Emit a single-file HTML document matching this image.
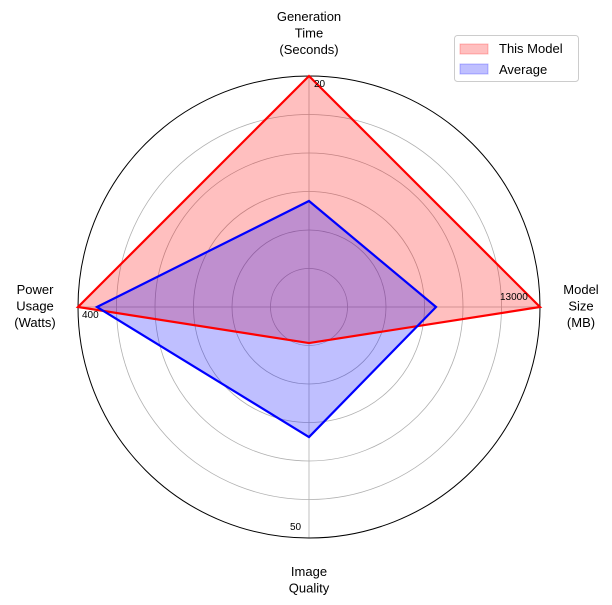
<!DOCTYPE html>
<html><head><meta charset="utf-8"><style>body{margin:0;background:#fff}svg{display:block;font-family:"Liberation Sans","DejaVu Sans",sans-serif}</style></head>
<body>
<svg id="c" width="612" height="605"></svg>
<script>
const categories=["Model Size (MB)","Generation Time (Seconds)","Power Usage (Watts)","Image Quality"];
const thisModel=[1.0,1.0,1.0,0.156];
const average=[0.55,0.459,0.918,0.563];
const tickLabels=["13000","20","400","50"];
const NS="http://www.w3.org/2000/svg";
const svg=document.getElementById('c');
const cx=309,cy=307,R=231;
function mk(t,a,p){const e=document.createElementNS(NS,t);for(const k in a)e.setAttribute(k,a[k]);(p||svg).appendChild(e);return e;}
function ang(i){return i*2*Math.PI/categories.length;}
function px(i,v){return cx+Math.cos(ang(i))*v*R;}
function py(i,v){return cy-Math.sin(ang(i))*v*R;}
for(let k=1;k<=5;k++){const g=mk('circle',{cx,cy,r:R*k/6,fill:'none',stroke:'#b0b0b0','stroke-width':0.8});

}
categories.forEach((c,i)=>{const l=mk('line',{x1:cx,y1:cy,x2:px(i,1),y2:py(i,1),stroke:'#b0b0b0','stroke-width':0.8});

});
const outer=mk('circle',{cx,cy,r:R,fill:'none',stroke:'#000','stroke-width':1});


function pts(vals){return vals.map((v,i)=>px(i,v)+','+py(i,v)).join(' ');}
function fill(vals,col,name){const p=mk('polygon',{points:pts(vals),fill:col,'fill-opacity':0.25,stroke:'none'});

}
function line(vals,col,name){const s=mk('polygon',{points:pts(vals),fill:'none',stroke:col,'stroke-width':2.2});

}
fill(thisModel,'#ff0000','this-model');
fill(average,'#0000ff','average');
line(thisModel,'#ff0000','this-model');
line(average,'#0000ff','average');
const tickPos=[[500,300],[314,87],[82,318],[290,530]];
tickLabels.forEach((t,i)=>{const e=mk('text',{x:tickPos[i][0],y:tickPos[i][1],'font-size':10});e.textContent=t;

});
const lab=[[["Model","Size","(MB)"],581,294],[["Generation","Time","(Seconds)"],309,21],[["Power","Usage","(Watts)"],35,294],[["Image","Quality"],309,576]];
lab.forEach(([lines,x,y])=>{const t=mk('text',{x,y,'font-size':13,'text-anchor':'middle'});


lines.forEach((s,j)=>{const ts=mk('tspan',{x,y:y+j*16.5},t);ts.textContent=s;});});
</script>
<svg style="position:absolute;left:0;top:0" width="612" height="605">
<rect x="454.5" y="35.5" width="124" height="46" rx="3" fill="#fff" fill-opacity="0.8" stroke="#ccc"/>
<rect x="460" y="44" width="28" height="10" fill="#ff0000" fill-opacity="0.25" stroke="#ff0000" stroke-opacity="0.25"/>
<text x="499" y="53" font-size="13" font-family="Liberation Sans, sans-serif">This Model</text>
<rect x="460" y="64" width="28" height="10" fill="#0000ff" fill-opacity="0.25" stroke="#0000ff" stroke-opacity="0.25"/>
<text x="499" y="74" font-size="13" font-family="Liberation Sans, sans-serif">Average</text>
</svg>
</body></html>
